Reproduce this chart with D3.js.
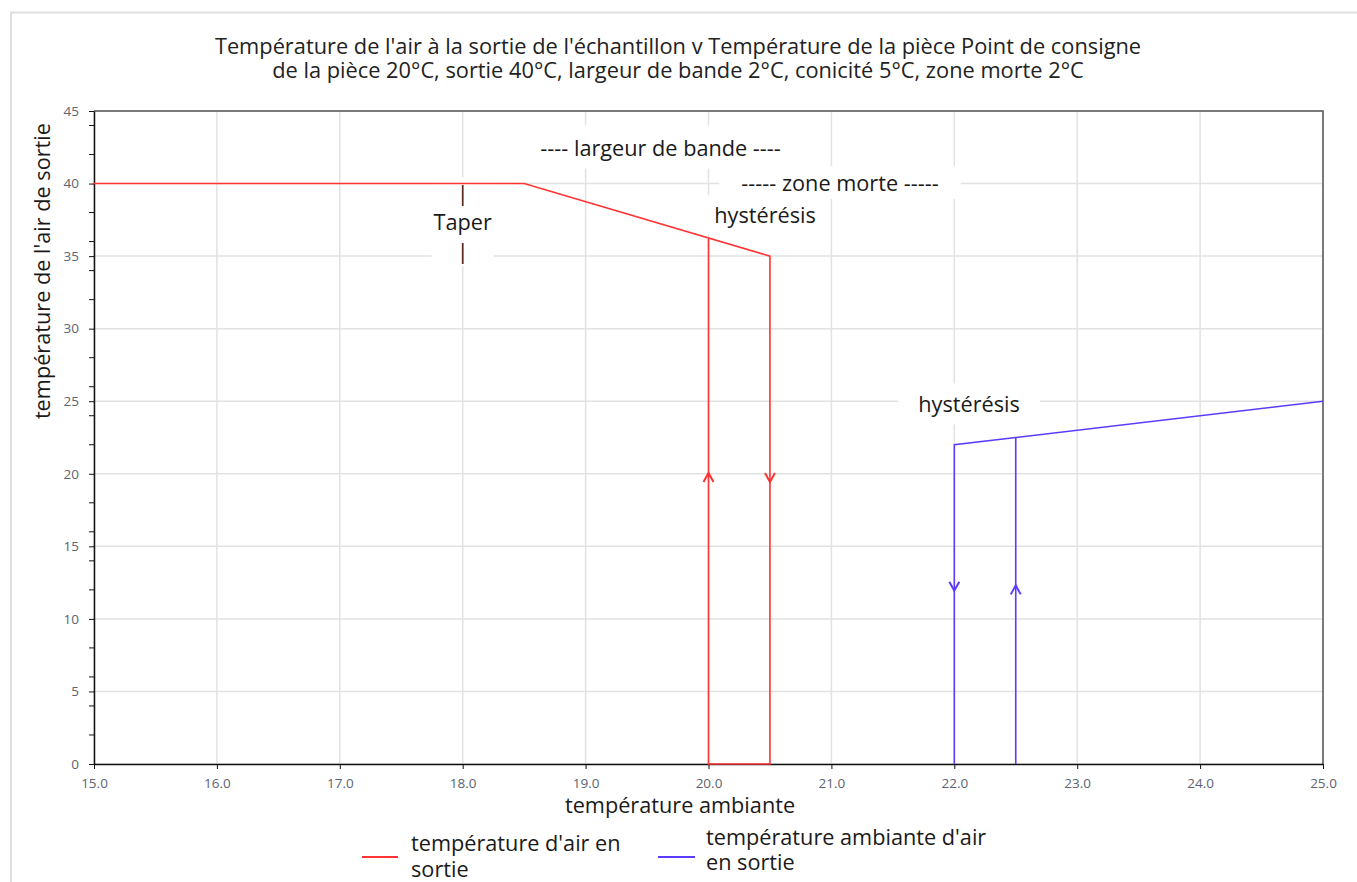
<!DOCTYPE html>
<html><head><meta charset="utf-8">
<script src="https://cdn.jsdelivr.net/npm/d3@7"></script>
<style>
body{margin:0;background:#fff;font-family:"Open Sans","Noto Sans",sans-serif;}
</style></head>
<body><svg id="c" width="1357" height="882"></svg>
<script>
// ---- data ----
const titleLines = ["Température de l'air à la sortie de l'échantillon v Température de la pièce Point de consigne",
                    "de la pièce 20°C, sortie 40°C, largeur de bande 2°C, conicité 5°C, zone morte 2°C"];
const xLabel = "température ambiante";
const yLabel = "température de l'air de sortie";
const xTicks = [15,16,17,18,19,20,21,22,23,24,25];
const yTicks = [0,5,10,15,20,25,30,35,40,45];
const yMinorTicks = [2,4,6,8,12,14,16,18,22,24,26,28,32,34,36,38,42,44];
const seriesNames = ["température d'air en|sortie", "température ambiante d'air|en sortie"];
const redSeries = [[15,40],[18.5,40],[20.5,35],[20.5,0],[20,0],[20,36.25]];
const blueSeries = [[22,0],[22,22],[22.5,22.5],[25,25]];
const blueBranch = [[22.5,0],[22.5,22.5]];
const redArrows = [[20,19.75,"up"],[20.5,19.75,"down"]];
const blueArrows = [[22,12.25,"down"],[22.5,12.0,"up"]];
const annotations = [
  {text:["---- largeur de bande ----"], x:19.61, y:42.45},
  {text:["----- zone morte -----"], x:21.07, y:40.0},
  {text:["hystérésis"], x:20.46, y:37.8},
  {text:["hystérésis"], x:22.12, y:24.74},
  {text:["|","Taper","|"], x:18.0, y:37.3}
];
const annoPad = [[10,7],[22,2],[12,5],[20,6],[2,1]];

// ---- layout ----
const W=1357,H=882;
const m={left:94,right:1323,top:111,bottom:764};
const svg=d3.select("#c");
const x=d3.scaleLinear().domain([15,25]).range([m.left,m.right]);
const y=d3.scaleLinear().domain([0,45]).range([m.bottom,m.top]);
const red="#ff3333", blue="#5a3cff";
const FS=21.7;

// outer frame
svg.append("path").attr("d",`M11,${H+5} V12.5 H${W+5}`).attr("fill","none").attr("stroke","#dedede").attr("stroke-width",2);

// title
svg.append("g").selectAll("text").data(titleLines).join("text")
  .attr("x",678).attr("y",(d,i)=>54+i*24).attr("text-anchor","middle")
  .attr("font-size",21.8).attr("fill","#222").text(d=>d);

// grid
const g=svg.append("g");
g.selectAll(".vg").data(xTicks).join("line").attr("x1",d=>x(d)).attr("x2",d=>x(d))
  .attr("y1",m.top).attr("y2",m.bottom).attr("stroke","#e2e2e2").attr("stroke-width",1.5);
g.selectAll(".hg").data(yTicks).join("line").attr("y1",d=>y(d)).attr("y2",d=>y(d))
  .attr("x1",m.left).attr("x2",m.right).attr("stroke","#e2e2e2").attr("stroke-width",1.5);

// plot frame top/right
svg.append("path").attr("d",`M${m.left},${m.top} H${m.right} V${m.bottom}`).attr("fill","none").attr("stroke","#555").attr("stroke-width",1.5);

// annotation backgrounds + text
const ag=svg.append("g");
annotations.forEach((a,i)=>{
  const cx=x(a.x), cy=y(a.y);
  const lh=29, n=a.text.length;
  const grp=ag.append("g");
  const rect=grp.append("rect").attr("fill","#fff");
  const t=grp.append("text").attr("text-anchor","middle").attr("font-size",FS).attr("fill","#1a1a1a");
  a.text.forEach((s,j)=>{
    t.append("tspan").attr("x",cx).attr("y",cy+7.5+(j-(n-1)/2)*lh).text(s);
  });
  const bb=t.node().getBBox();
  const [px,py]=annoPad[i];
  rect.attr("x",bb.x-px).attr("y",bb.y-py).attr("width",bb.width+2*px).attr("height",bb.height+2*py);
});

// axes
const xa=svg.append("g").attr("transform",`translate(0,${m.bottom})`)
  .call(d3.axisBottom(x).tickValues(xTicks).tickFormat(d3.format(".1f")).tickSize(5).tickSizeOuter(0));
const ya=svg.append("g").attr("transform",`translate(${m.left},0)`)
  .call(d3.axisLeft(y).tickValues(yTicks).tickSize(5).tickSizeOuter(0));
ya.append("g").selectAll("line").data(yMinorTicks).join("line")
  .attr("x1",-5).attr("x2",0).attr("y1",d=>y(d)).attr("y2",d=>y(d)).attr("stroke","#111");
[xa,ya].forEach(a=>{
  a.select(".domain").attr("stroke","#111").attr("stroke-width",1.5);
  a.selectAll(".tick line").attr("stroke","#111");
  a.selectAll("text").attr("font-family","'Open Sans',sans-serif").attr("font-size",13.5).attr("fill","#5b6470");
});
xa.selectAll("text").attr("dy","1.15em");
ya.selectAll(".tick text").attr("x",-15);

// series
const line=d3.line().x(d=>x(d[0])).y(d=>y(d[1]));
svg.append("path").datum(redSeries).attr("d",line).attr("fill","none").attr("stroke",red).attr("stroke-width",1.6);
svg.append("path").datum(blueSeries).attr("d",line).attr("fill","none").attr("stroke",blue).attr("stroke-width",1.6);
svg.append("path").datum(blueBranch).attr("d",line).attr("fill","none").attr("stroke",blue).attr("stroke-width",1.6);

// arrows
function arrows(data,col){
  svg.append("g").selectAll("path").data(data).join("path")
    .attr("d",d=>{const cx=x(d[0]),cy=y(d[1]);const s=d[2]==="up"?-1:1;
      return `M${cx-5},${cy-4.5*s} L${cx},${cy+4.5*s} L${cx+5},${cy-4.5*s}`;})
    .attr("fill","none").attr("stroke",col).attr("stroke-width",2);
}
arrows(redArrows,red); arrows(blueArrows,blue);

// axis labels
svg.append("text").attr("x",680).attr("y",813).attr("text-anchor","middle").attr("font-size",FS).attr("fill","#1a1a1a").text(xLabel);
svg.append("text").attr("transform","translate(50,123) rotate(-90)").attr("text-anchor","end").attr("font-size",FS).attr("fill","#1a1a1a").text(yLabel);

// legend
const leg=[{col:red,x1:362,x2:398,tx:411,ly:857,ty:[851,877]},
           {col:blue,x1:658,x2:695,tx:706,ly:857,ty:[845,870]}];
leg.forEach((l,i)=>{
  svg.append("line").attr("x1",l.x1).attr("x2",l.x2).attr("y1",l.ly).attr("y2",l.ly).attr("stroke",l.col).attr("stroke-width",2);
  const t=svg.append("text").attr("font-size",FS).attr("fill","#1a1a1a");
  seriesNames[i].split("|").forEach((s,j)=>t.append("tspan").attr("x",l.tx).attr("y",l.ty[j]).text(s));
});
</script></body></html>
